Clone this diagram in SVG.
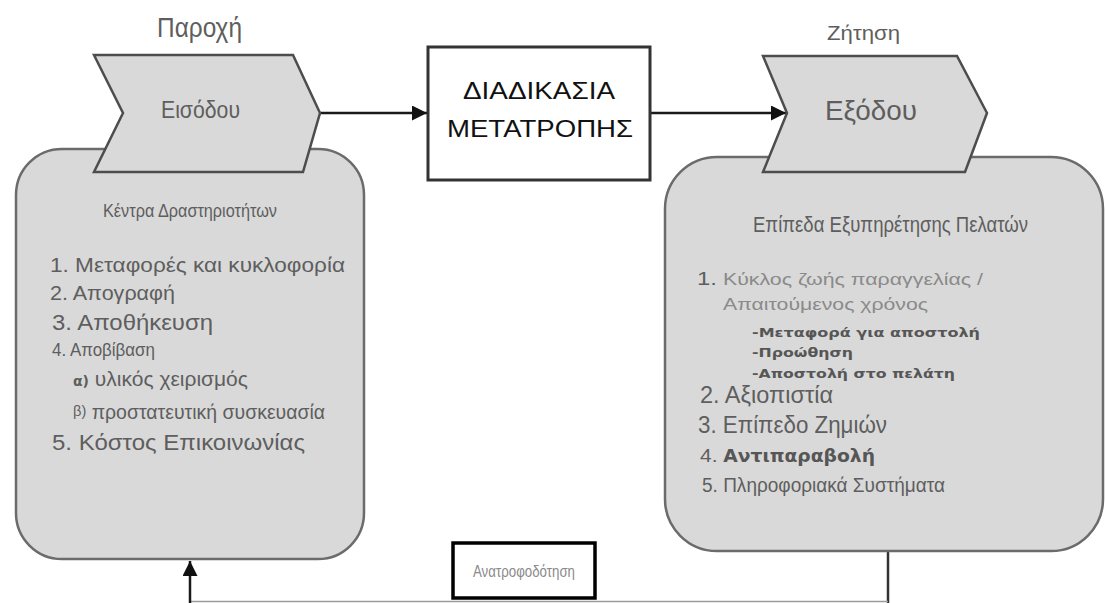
<svg xmlns="http://www.w3.org/2000/svg" width="1105" height="603" viewBox="0 0 1105 603">
  <defs>
    <marker id="arrow" viewBox="0 0 10 10" refX="10" refY="5" markerWidth="6" markerHeight="6" markerUnits="strokeWidth" orient="auto">
      <path d="M0,0 L10,5 L0,10 z" fill="#111"/>
    </marker>
    <style>
      .panel { fill: #d9d9d9; stroke: #6b6b6b; stroke-width: 2.5; }
      .chev { fill: #d9d9d9; stroke: #4d4d4d; stroke-width: 2.5; stroke-linejoin: miter; }
      .proc { fill: #ffffff; stroke: #333333; stroke-width: 3; }
      .fb { fill: #ffffff; stroke: #000000; stroke-width: 3.5; }
      .link { fill: none; stroke: #1a1a1a; stroke-width: 2.5; }
      .t { font-family: "Liberation Sans", Arial, sans-serif; fill: #5e5e5e; }
      .lite { fill: #8a8a8a; }
      .bold { font-family: "DejaVu Sans", Verdana, sans-serif; font-weight: bold; fill: #565656; }
      .dark { fill: #111111; }
    </style>
  </defs>

  <rect width="1105" height="603" fill="#ffffff"/>

  <!-- connectors -->
  <g id="connectors">
    <line class="link" x1="320" y1="113" x2="427" y2="113" marker-end="url(#arrow)"/>
    <line class="link" x1="650" y1="113" x2="786" y2="113" marker-end="url(#arrow)"/>
    <polyline fill="none" stroke="#333" stroke-width="2.5" points="888,551 888,603"/>
    <line x1="888" y1="601.5" x2="190" y2="601.5" stroke="#9a9a9a" stroke-width="1.5"/>
    <line class="link" x1="190" y1="603" x2="190" y2="561" marker-end="url(#arrow)"/>
  </g>

  <!-- supply side: activity centres -->
  <g id="activity-centres">
    <rect class="panel" x="16" y="149" width="348" height="410" rx="46" ry="46"/>
    <text class="t" x="103" y="217" font-size="18" textLength="174" lengthAdjust="spacingAndGlyphs">Κέντρα Δραστηριοτήτων</text>
    <text class="t" x="50" y="272" font-size="21" textLength="295" lengthAdjust="spacingAndGlyphs">1. Μεταφορές και κυκλοφορία</text>
    <text class="t" x="50" y="300" font-size="21" textLength="125" lengthAdjust="spacingAndGlyphs">2. Απογραφή</text>
    <text class="t" x="52" y="330" font-size="22" textLength="161" lengthAdjust="spacingAndGlyphs">3. Αποθήκευση</text>
    <text class="t" x="52" y="356" font-size="19" textLength="103" lengthAdjust="spacingAndGlyphs">4. Αποβίβαση</text>
    <text class="t" x="73" y="386" font-size="21"><tspan font-size="14" font-weight="bold" font-family="DejaVu Sans, sans-serif">α)</tspan> υλικός χειρισμός</text>
    <text class="t" x="73" y="419" font-size="20" textLength="252" lengthAdjust="spacingAndGlyphs"><tspan font-size="15" dy="-3">β)</tspan><tspan dy="3"> προστατευτική συσκευασία</tspan></text>
    <text class="t" x="52" y="450" font-size="22" textLength="253" lengthAdjust="spacingAndGlyphs">5. Κόστος Επικοινωνίας</text>
  </g>

  <!-- demand side: customer service levels -->
  <g id="service-levels">
    <rect class="panel" x="665" y="157" width="438" height="394" rx="52" ry="52"/>
    <text class="t" x="753" y="232" font-size="22" textLength="275" lengthAdjust="spacingAndGlyphs">Επίπεδα Εξυπηρέτησης Πελατών</text>
    <text class="t lite" x="697" y="285" font-size="17" textLength="286" lengthAdjust="spacingAndGlyphs"><tspan fill="#5e5e5e" font-size="19">1.</tspan> Κύκλος ζωής παραγγελίας /</text>
    <text class="t lite" x="723" y="310" font-size="17" textLength="205" lengthAdjust="spacingAndGlyphs">Απαιτούμενος χρόνος</text>
    <text class="bold" x="752" y="337" font-size="13" textLength="228" lengthAdjust="spacingAndGlyphs">-Μεταφορά για αποστολή</text>
    <text class="bold" x="752" y="357" font-size="13" textLength="101" lengthAdjust="spacingAndGlyphs">-Προώθηση</text>
    <text class="bold" x="752" y="378" font-size="13" textLength="203" lengthAdjust="spacingAndGlyphs">-Αποστολή στο πελάτη</text>
    <text class="t" x="700" y="403" font-size="23" textLength="133" lengthAdjust="spacingAndGlyphs">2. Αξιοπιστία</text>
    <text class="t" x="698" y="433" font-size="24" textLength="189" lengthAdjust="spacingAndGlyphs">3. Επίπεδο Ζημιών</text>
    <text class="t" x="700" y="462" font-size="19" textLength="175" lengthAdjust="spacingAndGlyphs">4. <tspan class="bold" font-size="17">Αντιπαραβολή</tspan></text>
    <text class="t" x="702" y="492" font-size="20" textLength="243" lengthAdjust="spacingAndGlyphs">5. Πληροφοριακά Συστήματα</text>
  </g>

  <!-- input chevron -->
  <g id="input">
    <text class="t" x="157" y="37" font-size="27" textLength="85" lengthAdjust="spacingAndGlyphs">Παροχή</text>
    <polygon class="chev" points="94,55 293,55 320,113 303,172 94,172 123,113"/>
    <text class="t" x="161" y="118" font-size="24" textLength="79" lengthAdjust="spacingAndGlyphs">Εισόδου</text>
  </g>

  <!-- transformation process -->
  <g id="process">
    <rect class="proc" x="428" y="47" width="222" height="133"/>
    <text class="t dark" x="539" y="99" font-size="24" text-anchor="middle" textLength="152" lengthAdjust="spacingAndGlyphs">ΔΙΑΔΙΚΑΣΙΑ</text>
    <text class="t dark" x="540" y="137" font-size="24" text-anchor="middle" textLength="186" lengthAdjust="spacingAndGlyphs">ΜΕΤΑΤΡΟΠΗΣ</text>
  </g>

  <!-- output chevron -->
  <g id="output">
    <text class="t" x="827" y="40" font-size="21" textLength="73" lengthAdjust="spacingAndGlyphs">Ζήτηση</text>
    <polygon class="chev" points="763,56 957,56 987,113 965,172 763,172 787,113"/>
    <text class="t" x="825" y="120" font-size="27" textLength="92" lengthAdjust="spacingAndGlyphs">Εξόδου</text>
  </g>

  <!-- feedback -->
  <g id="feedback">
    <rect class="fb" x="453" y="543" width="142" height="55"/>
    <text class="t lite" x="473" y="577" font-size="17" textLength="102" lengthAdjust="spacingAndGlyphs">Ανατροφοδότηση</text>
  </g>
</svg>
